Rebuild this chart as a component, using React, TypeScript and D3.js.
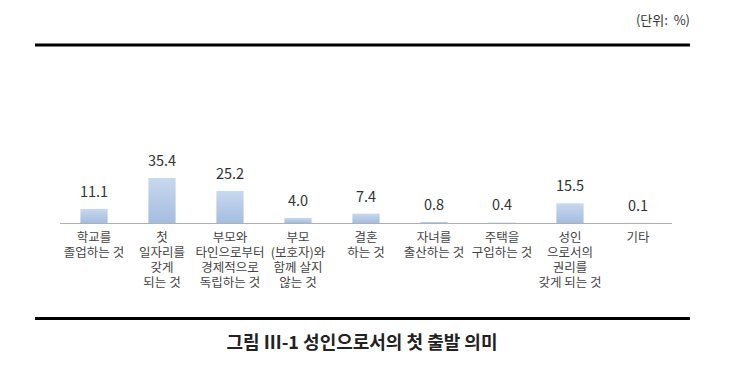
import React, { useEffect, useRef } from "react"
import * as d3 from "d3"

const categories = [
	["학교를", "졸업하는 것"],
	["첫", "일자리를", "갖게", "되는 것"],
	["부모와", "타인으로부터", "경제적으로", "독립하는 것"],
	["부모", "(보호자)와", "함께 살지", "않는 것"],
	["결혼", "하는 것"],
	["자녀를", "출산하는 것"],
	["주택을", "구입하는 것"],
	["성인", "으로서의", "권리를", "갖게 되는 것"],
	["기타"],
]
const values = [11.1, 35.4, 25.2, 4.0, 7.4, 0.8, 0.4, 15.5, 0.1]
const valueLabels = ["11.1", "35.4", "25.2", "4.0", "7.4", "0.8", "0.4", "15.5", "0.1"]

const unitText = "(단위:  %)"
const titleText = "그림 Ⅲ-1 성인으로서의 첫 출발 의미"

const W = 738
const H = 372
const FONT = "'Noto Sans CJK KR', 'Noto Sans', sans-serif"

const App = () => {
	const ref = useRef<SVGSVGElement>(null)

	useEffect(() => {
		const svg = d3.select(ref.current)
		svg.selectAll("*").remove()

		const left = 60
		const right = 672
		const baseline = 223

		const x = d3
			.scaleBand<number>()
			.domain(values.map((_, i) => i))
			.range([left, right])
			.paddingInner(0.6)
			.paddingOuter(0.3)

		const y = d3.scaleLinear().domain([0, 35.4]).range([baseline, 178])

		// gradient for bars
		const grad = svg
			.append("defs")
			.append("linearGradient")
			.attr("id", "barGrad")
			.attr("x1", 0)
			.attr("y1", 0)
			.attr("x2", 0)
			.attr("y2", 1)
		grad.append("stop").attr("offset", "0%").attr("stop-color", "#c8d8ee")
		grad.append("stop").attr("offset", "100%").attr("stop-color", "#a4bde0")

		// top and bottom rules
		svg
			.append("line")
			.attr("x1", 35)
			.attr("x2", 690)
			.attr("y1", 45)
			.attr("y2", 45)
			.attr("stroke", "#000")
			.attr("stroke-width", 3)
		svg
			.append("line")
			.attr("x1", 35)
			.attr("x2", 690)
			.attr("y1", 318.5)
			.attr("y2", 318.5)
			.attr("stroke", "#000")
			.attr("stroke-width", 3)

		// unit
		svg
			.append("text")
			.attr("x", 690)
			.attr("y", 25)
			.attr("text-anchor", "end")
			.attr("xml:space", "preserve")
			.style("white-space", "pre")
			.style("font-family", FONT)
			.style("font-size", "13px")
			.style("fill", "#333")
			.text(unitText)

		// bars
		svg
			.selectAll("rect.bar")
			.data(values)
			.enter()
			.append("rect")
			.attr("class", "bar")
			.attr("x", (_, i) => x(i)!)
			.attr("width", x.bandwidth())
			.attr("y", d => y(d))
			.attr("height", d => baseline - y(d))
			.attr("fill", "url(#barGrad)")

		// axis line
		svg
			.append("line")
			.attr("x1", left)
			.attr("x2", right)
			.attr("y1", baseline + 0.5)
			.attr("y2", baseline + 0.5)
			.attr("stroke", "#b0b0b0")
			.attr("stroke-width", 1)

		// value labels
		svg
			.selectAll("text.val")
			.data(values)
			.enter()
			.append("text")
			.attr("class", "val")
			.attr("x", (_, i) => x(i)! + x.bandwidth() / 2)
			.attr("y", d => y(d) - 12)
			.attr("text-anchor", "middle")
			.style("font-family", FONT)
			.style("font-size", "14.5px")
			.style("fill", "#333")
			.text((_, i) => valueLabels[i])

		// category labels
		categories.forEach((lines, i) => {
			const t = svg
				.append("text")
				.attr("text-anchor", "middle")
				.style("font-family", FONT)
				.style("font-size", "12.5px")
				.style("fill", "#444")
			lines.forEach((ln, j) => {
				t.append("tspan")
					.attr("x", x(i)! + x.bandwidth() / 2)
					.attr("y", baseline + 18.5 + j * 15.3)
					.text(ln)
			})
		})

		// title
		svg
			.append("text")
			.attr("x", 362)
			.attr("y", 349)
			.attr("text-anchor", "middle")
			.style("font-family", FONT)
			.style("font-size", "18px")
			.style("font-weight", "bold")
			.style("fill", "#222")
			.text(titleText)
	}, [])

	return (
		<svg
			ref={ref}
			width={W}
			height={H}
			style={{ position: "absolute", left: 0, top: 0, background: "#fff" }}
		></svg>
	)
}

export default App
